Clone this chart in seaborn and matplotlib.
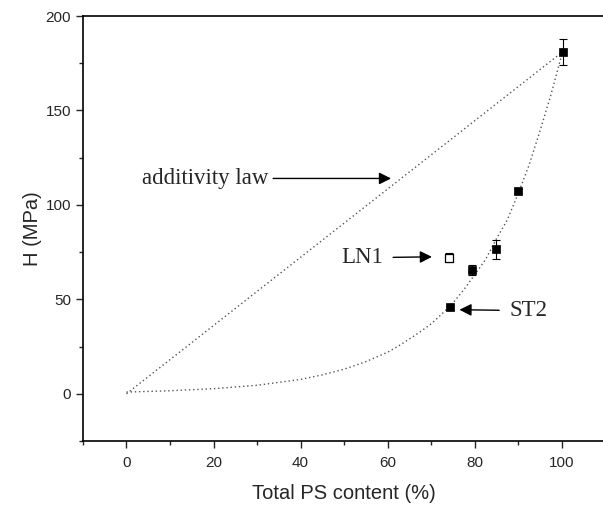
import matplotlib
matplotlib.use("Agg")
import matplotlib.pyplot as plt
from matplotlib.ticker import MultipleLocator
import numpy as np
import pandas as pd
import seaborn as sns

# measured hardness vs PS content
ps_content = [74.3, 79.4, 84.8, 89.9, 100.2]
hardness = [45.7, 65.6, 76.6, 107.2, 181.0]
hardness_err = [1.0, 2.5, 5.0, 1.0, 7.0]

# LN1 sample (open symbol)
ln1_x = [74.0]
ln1_y = [72.0]
ln1_err = [2.5]

# additivity law line
add_x = [0, 100.2]
add_y = [0, 181.0]

# fitted curve
fit_x = [0, 10, 20, 30, 40, 45, 50, 55, 60, 62.5, 65, 67.5, 70, 72.5, 75, 77.5,
         80, 82.5, 85, 87.5, 90, 92.5, 95, 97.5, 100.2]
fit_y = [0.9, 1.6, 2.7, 4.5, 7.6, 10.0, 13.0, 17.0, 22.0, 25.3, 29.0, 32.8, 37.0,
         42.3, 48.0, 55.0, 63.0, 71.0, 82.0, 92.0, 106.0, 121.0, 139.0, 158.0, 181.0]

sns.set_theme(style="ticks")
plt.rcParams["font.family"] = ["Liberation Sans", "DejaVu Sans"]

fig = plt.figure(figsize=(6.03, 5.08), dpi=100)
ax = fig.add_axes([0.1376, 0.1319, 0.866, 0.8366])

sns.lineplot(data=pd.DataFrame({"x": add_x, "y": add_y}), x="x", y="y", ax=ax,
             color="#555555", linestyle=(0, (1, 2)), linewidth=1.0)
sns.lineplot(data=pd.DataFrame({"x": fit_x, "y": fit_y}), x="x", y="y", ax=ax,
             color="#555555", linestyle=(0, (1, 2)), linewidth=1.0)

ax.errorbar(ps_content, hardness, yerr=hardness_err, fmt="none", ecolor="black",
            elinewidth=0.8, capsize=3, capthick=0.8)
sns.scatterplot(x=ps_content, y=hardness, marker="s", s=40, color="black",
                edgecolor="black", ax=ax, zorder=3)
ax.errorbar(ln1_x, ln1_y, yerr=ln1_err, fmt="none", ecolor="black",
            elinewidth=0.8, capsize=3, capthick=0.8)
ax.scatter(ln1_x, ln1_y, marker="s", s=40, facecolor="white", edgecolor="black",
           linewidth=0.9, zorder=3)

serif = ["Liberation Serif", "DejaVu Serif"]
arrow = dict(arrowstyle="-|>", color="black", lw=1.0, mutation_scale=18,
             shrinkA=1, shrinkB=0)
ax.annotate("additivity law", xy=(60.8, 114), xytext=(3.6, 114), va="center",
            ha="left", fontsize=16.5, family=serif, arrowprops=arrow)
ax.annotate("LN1", xy=(70.2, 72.5), xytext=(49.3, 72.0), va="center",
            ha="left", fontsize=16.5, family=serif, arrowprops=dict(arrow, shrinkA=5))
ax.annotate("ST2", xy=(76.5, 44.5), xytext=(88.0, 44.0), va="center",
            ha="left", fontsize=16.5, family=serif, arrowprops=dict(arrow, shrinkA=5))

ax.set_xlim(-10, 110)
ax.set_ylim(-25, 200)
ax.xaxis.set_major_locator(MultipleLocator(20))
ax.xaxis.set_minor_locator(MultipleLocator(10))
ax.yaxis.set_major_locator(MultipleLocator(50))
ax.yaxis.set_minor_locator(MultipleLocator(25))
ax.tick_params(which="major", direction="out", length=5, width=1.0, labelsize=11)
ax.tick_params(axis="x", which="major", pad=6)
ax.tick_params(which="minor", direction="out", length=3, width=1.0)
ax.set_xlabel("Total PS content (%)", fontsize=14.5, labelpad=10)
ax.set_ylabel("H (MPa)", fontsize=14.5, labelpad=3)
for sp in ax.spines.values():
    sp.set_linewidth(1.2)
    sp.set_color("black")

fig.savefig("out.png", dpi=100)
